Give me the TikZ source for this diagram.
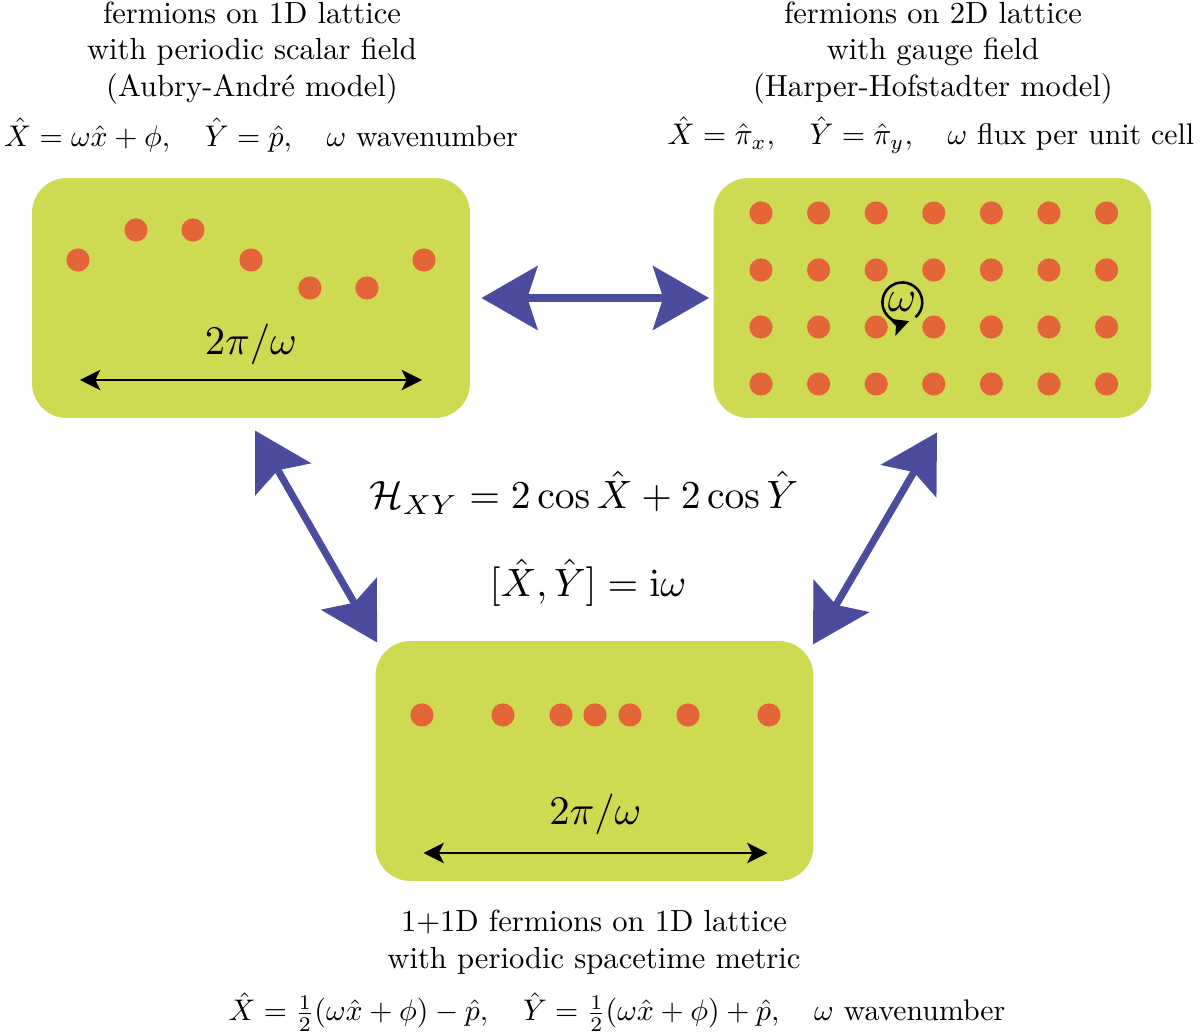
\documentclass[tikz,border=0pt]{standalone}
\usepackage{xcolor}
\usepackage{tikz}
\usetikzlibrary{arrows.meta,positioning,calc}
\definecolor{limepanel}{HTML}{CEDA52}
\definecolor{siteorange}{HTML}{E5653A}
\definecolor{mapblue}{HTML}{4C4C9E}

\begin{document}
\begin{tikzpicture}[x=0.0138cm,y=0.0138cm,font=\fontsize{12}{14.5}\selectfont,>=Stealth]
  \tikzset{panel/.style={fill=limepanel,rounded corners=0.48cm,minimum width=6.04cm,minimum height=3.31cm,inner sep=0pt},
    site/.style={circle,fill=siteorange,minimum size=0.32cm,inner sep=0pt},
    duality/.style={mapblue,line width=2.8pt,{Stealth[length=22pt,width=25pt,inset=4pt]}-{Stealth[length=22pt,width=25pt,inset=4pt]}},
    period/.style={line width=0.9pt,{Stealth[length=8pt,width=8pt,inset=2pt]}-{Stealth[length=8pt,width=8pt,inset=2pt]}},
    caption/.style={align=center,inner sep=0pt,font=\fontsize{10}{12}\selectfont,scale=1.2,transform shape},
    ops/.style={font=\fontsize{10}{12}\selectfont,scale=1.17,transform shape},
    bigmath/.style={font=\fontsize{10}{12}\selectfont,scale=1.55,transform shape}}
  \useasboundingbox (0,0) rectangle (1200,1033);

  \node[panel] (aubry) at (251,735) {};
  \node[panel] (harper) at (932.5,735) {};
  \node[panel] (metric) at (594.5,272) {};

  \foreach \x/\y [count=\i] in {78/773,136/803,193/803,251/773,310/745,367/745,424/773}
    \node[site] (a\i) at (\x,\y) {};
  \foreach \i in {0,...,6}
    \foreach \j in {0,...,3}
      \node[site] (h\i\j) at (761+57.6*\i,820-57*\j) {};
  \foreach \x [count=\i] in {422,503,561,595,630,688,769}
    \node[site] (m\i) at (\x,318) {};

  \node[circle,minimum size=0.55cm,inner sep=0pt,font=\fontsize{16}{19}\selectfont] (flux) at (902,731) {$\omega$};
  \draw[line width=1pt,-{Stealth[length=7pt,width=7pt,inset=1.5pt]}] (flux.-48) arc[start angle=-48,end angle=290,radius=0.275cm];

  \coordinate (aubryL) at ([shift={(-171,-82)}]aubry.center);
  \coordinate (aubryR) at ([shift={(171,-82)}]aubry.center);
  \draw[period] (aubryL) -- (aubryR) node[midway,above=0pt,bigmath,scale=1.03] (aubrylen) {$2\pi/\omega$};
  \coordinate (metricL) at ([shift={(-171,-92)}]metric.center);
  \coordinate (metricR) at ([shift={(173,-92)}]metric.center);
  \draw[period] (metricL) -- (metricR) node[midway,above=1pt,bigmath,scale=1.03] (metriclen) {$2\pi/\omega$};

  \draw[duality] ([shift={(11,0)}]aubry.east) -- ([shift={(-4,0)}]harper.west);
  \draw[duality] ([shift={(4,-12)}]aubry.south) -- ([shift={(2,-2)}]metric.north west);
  \draw[duality] ([shift={(4.5,-14)}]harper.south) -- ([shift={(-1,-4)}]metric.north east);

  \node[caption] (aubrytitle) at (252,980) {fermions on 1D lattice\\with periodic scalar field\\(Aubry-Andr\'e model)};
  \node[ops] (aubryops) at (261,898) {$\hat X=\omega\hat x+\phi,\quad \hat Y=\hat p,\quad \omega$ wavenumber};
  \node[caption] (harpertitle) at (933,980) {fermions on 2D lattice\\with gauge field\\(Harper-Hofstadter model)};
  \node[ops] (harperops) at (931,898) {$\hat X=\hat\pi_x,\quad \hat Y=\hat\pi_y,\quad \omega$ flux per unit cell};
  \node[caption] (metrictitle) at (594,91) {1+1D fermions on 1D lattice\\with periodic spacetime metric};
  \node[ops] (metricops) at (617,21) {$\hat X={\textstyle\frac12}(\omega\hat x+\phi)-\hat p,\quad \hat Y={\textstyle\frac12}(\omega\hat x+\phi)+\hat p,\quad \omega$ wavenumber};

  \node[bigmath] (hamilton) at (584,540) {$\mathcal{H}_{XY}=2\cos\hat X+2\cos\hat Y$};
  \node[bigmath] (commutator) at (588,450) {$[\hat X,\hat Y]=\mathrm{i}\omega$};
\end{tikzpicture}
\end{document}
